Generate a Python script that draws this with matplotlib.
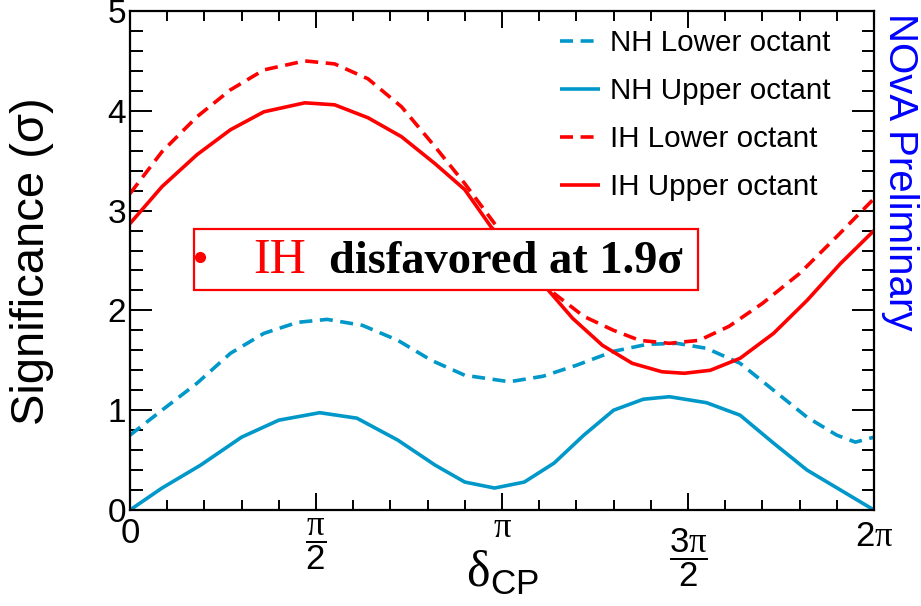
"""NOvA mass hierarchy significance vs delta_CP."""
import matplotlib

matplotlib.use("Agg")
import matplotlib.pyplot as plt
import numpy as np
from matplotlib.lines import Line2D
from matplotlib.patches import Rectangle
from matplotlib.transforms import blended_transform_factory

plt.rcParams.update({
    "font.family": ["Liberation Sans", "DejaVu Sans"],
    "mathtext.fontset": "custom",
    "mathtext.rm": "Liberation Sans",
    "mathtext.it": "Liberation Sans:italic",
    "mathtext.bf": "Liberation Sans:bold",
    "mathtext.sf": "Liberation Serif",
})

# delta_CP values in units of pi, significance in sigma
NH_LOWER_X = [0, 0.086, 0.18, 0.27, 0.36, 0.45, 0.53, 0.625, 0.72, 0.81, 0.90, 1.02,
              1.11, 1.20, 1.30, 1.39, 1.47, 1.55, 1.64, 1.73, 1.82, 1.90, 1.95, 2.0]
NH_LOWER_Y = [0.75, 1.00, 1.27, 1.57, 1.77, 1.88, 1.91, 1.85, 1.70, 1.50, 1.35, 1.285,
              1.34, 1.45, 1.59, 1.66, 1.67, 1.62, 1.47, 1.20, 0.93, 0.75, 0.68, 0.73]

NH_UPPER_X = [0, 0.086, 0.19, 0.30, 0.40, 0.51, 0.61, 0.72, 0.82, 0.90, 0.98, 1.06,
              1.14, 1.22, 1.30, 1.38, 1.45, 1.55, 1.64, 1.73, 1.82, 1.91, 2.0]
NH_UPPER_Y = [0.0, 0.22, 0.45, 0.73, 0.90, 0.975, 0.92, 0.70, 0.45, 0.28, 0.22, 0.28,
              0.47, 0.75, 1.00, 1.11, 1.135, 1.075, 0.95, 0.67, 0.40, 0.20, 0.0]

IH_LOWER_X = [0, 0.086, 0.18, 0.27, 0.36, 0.47, 0.55, 0.64, 0.73, 0.82, 0.90, 0.98,
              1.14, 1.22, 1.30, 1.37, 1.45, 1.53, 1.61, 1.70, 1.80, 1.90, 2.0]
IH_LOWER_Y = [3.17, 3.59, 3.94, 4.21, 4.41, 4.50, 4.47, 4.32, 4.04, 3.64, 3.27, 2.87,
              2.17, 1.94, 1.80, 1.70, 1.67, 1.70, 1.84, 2.07, 2.37, 2.74, 3.12]

IH_UPPER_X = [0, 0.086, 0.18, 0.27, 0.36, 0.47, 0.55, 0.64, 0.73, 0.82, 0.90, 0.97,
              1.125, 1.19, 1.27, 1.35, 1.43, 1.49, 1.56, 1.64, 1.73, 1.82, 1.91, 2.0]
IH_UPPER_Y = [2.87, 3.24, 3.56, 3.81, 3.99, 4.08, 4.06, 3.93, 3.74, 3.47, 3.21, 2.84,
              2.20, 1.92, 1.65, 1.47, 1.385, 1.37, 1.40, 1.52, 1.77, 2.10, 2.47, 2.80]

XTICK_POS = [0, 0.5, 1.0, 1.5, 2.0]
XTICK_LABELS = ["0", r"$\dfrac{\mathsf{\pi}}{2}$", r"$\mathsf{\pi}$",
                r"$\dfrac{3\mathsf{\pi}}{2}$", r"$2\mathsf{\pi}$"]
XTICK_TOPS = [517, 516, 511, 526, 520]  # pixel tops of tick labels

BLUE = "#0097C9"
RED = "#FF0000"
DASH = (0, (3.6, 2.1))

W, H = 921, 606
fig = plt.figure(figsize=(W / 100, H / 100), dpi=100, facecolor="white")
ax = fig.add_axes([130 / W, 1 - 510 / H, 744 / W, 499 / H])

series = [
    (NH_LOWER_X, NH_LOWER_Y, BLUE, DASH, "NH Lower octant"),
    (NH_UPPER_X, NH_UPPER_Y, BLUE, "-", "NH Upper octant"),
    (IH_LOWER_X, IH_LOWER_Y, RED, DASH, "IH Lower octant"),
    (IH_UPPER_X, IH_UPPER_Y, RED, "-", "IH Upper octant"),
]
for xs, ys, color, ls, label in series:
    ax.plot(np.array(xs) * np.pi, ys, color=color, linestyle=ls, lw=2.6, label=label,
            solid_capstyle="butt", dash_capstyle="butt", solid_joinstyle="round")

ax.set_xlim(0, 2 * np.pi)
ax.set_ylim(0, 5)
ax.set_xticks(np.array(XTICK_POS) * np.pi)
ax.set_xticks(np.arange(0, 2.01, 0.1) * np.pi, minor=True)
ax.set_xticklabels([])
ax.set_yticks(range(6))
ax.set_yticks(np.arange(0, 5.01, 0.2), minor=True)
ax.set_yticklabels([str(i) for i in range(6)], fontsize=24)
ax.tick_params(axis="y", which="major", direction="in", length=16, width=1.4,
               right=True, pad=3)
ax.tick_params(axis="y", which="minor", direction="in", length=9, width=1.4, right=True)
ax.tick_params(axis="x", which="major", direction="in", length=12, width=1.4, top=True)
ax.tick_params(axis="x", which="minor", direction="in", length=7, width=1.4, top=True)
for spine in ax.spines.values():
    spine.set_linewidth(1.6)

# ROOT-style tick labels placed by hand
trans = blended_transform_factory(ax.transData, fig.transFigure)
for pos, lab, top in zip(XTICK_POS, XTICK_LABELS, XTICK_TOPS):
    ax.text(pos * np.pi, 1 - top / H, lab, transform=trans, ha="center", va="top",
            fontsize=25, clip_on=False)

fig.text(32 / W, 1 - 261 / H, "Significance (σ)", rotation=90, ha="center",
         va="center", fontsize=34)
fig.text(502 / W, 1 - 587 / H, r"$\mathsf{\delta}_{\mathrm{CP}}$", ha="center",
         va="baseline", fontsize=36)

fig.text(900 / W, 1 - 13 / H, "NOvA Preliminary", color="#0000FF", rotation=-90,
         ha="center", va="top", fontsize=29)

ax.legend(loc="upper left", bbox_to_anchor=(560 / W, 1 - 29 / H),
          bbox_transform=fig.transFigure, frameon=False, fontsize=21.3,
          handlelength=1.35, handletextpad=0.33, labelspacing=0.68,
          borderpad=0, borderaxespad=0)

# annotation box
fig.add_artist(Rectangle((194 / W, 1 - 290 / H), 504 / W, 61 / H,
                         transform=fig.transFigure, facecolor="white",
                         edgecolor=RED, lw=1.6, zorder=5))
fig.add_artist(Line2D([200 / W], [1 - 257 / H], transform=fig.transFigure,
                      marker="o", markersize=7, color=RED, zorder=6))
fig.text(253 / W, 1 - 273 / H, "IH", color=RED, family="Liberation Serif",
         fontsize=36, va="baseline", zorder=6)
fig.text(329 / W, 1 - 273 / H, "disfavored at 1.9σ", color="black",
         family="Liberation Serif", fontweight="bold", fontsize=33.5,
         va="baseline", zorder=6)

fig.savefig("out.png", dpi=100, facecolor="white")
